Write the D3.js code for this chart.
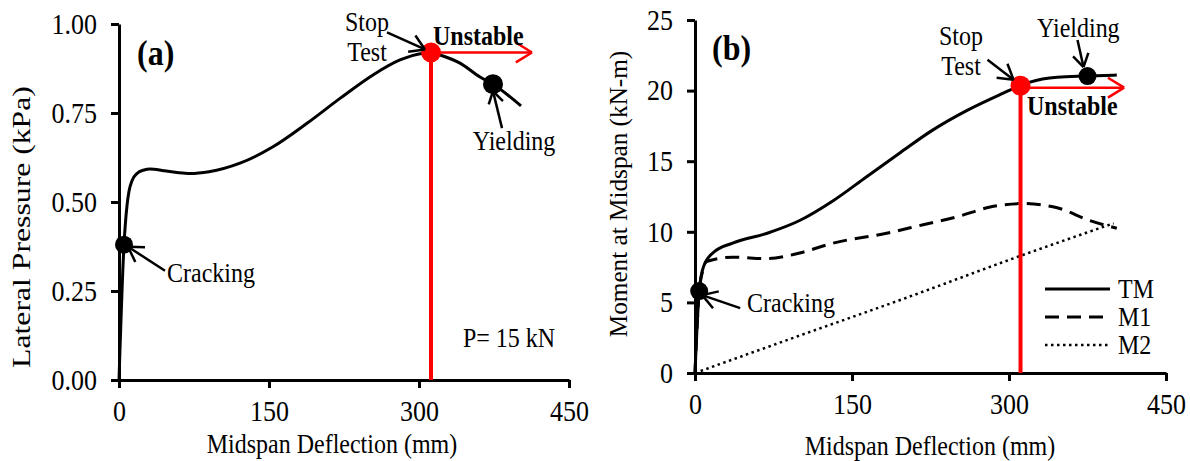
<html>
<head>
  <meta charset="utf-8" />
  <script src="https://cdnjs.cloudflare.com/ajax/libs/d3/7.8.5/d3.min.js"></script>
  <style>
    body { margin: 0; background: #fff; }
    svg { font-family: "Liberation Serif", "Times New Roman", serif; }
    .axis path, .axis line { stroke: #000; stroke-width: 3; }
    .axis text { fill: #000; font-size: 26px; font-family: "Liberation Serif", serif; }
  </style>
</head>
<body>
<svg width="1190" height="461"></svg>
<script>
  // panel (a): lateral pressure vs midspan deflection
  var defA = [0, 5, 8, 10, 13, 18, 25, 31, 45, 60, 71, 90, 121, 154, 188, 221, 254, 281, 304, 312, 321, 341, 361, 374, 402];
  var presA = [0, 0.38, 0.49, 0.53, 0.56, 0.58, 0.59, 0.593, 0.588, 0.582, 0.58, 0.585, 0.609, 0.655, 0.721, 0.791, 0.857, 0.899, 0.918, 0.92, 0.913, 0.89, 0.851, 0.831, 0.77];
  var keyA = { crack: [5, 0.38], stop: [312, 0.92], yield: [374, 0.831] };

  // panel (b): moment at midspan
  var defTM = [0, 4, 8, 17, 36, 69, 100, 132, 164, 196, 227, 260, 291, 311, 320, 346, 375, 403];
  var momTM = [0, 5.8, 7.5, 8.5, 9.2, 9.9, 10.8, 12.2, 13.9, 15.6, 17.2, 18.6, 19.7, 20.35, 20.6, 20.95, 21.03, 21.1];
  var defM1 = [0, 4, 8, 11, 36, 69, 100, 132, 183, 218, 250, 282, 313, 346, 377, 403];
  var momM1 = [0, 5.7, 7.4, 7.9, 8.2, 8.1, 8.5, 9.2, 9.9, 10.5, 11.05, 11.75, 12.0, 11.7, 10.8, 10.25];
  var defM2 = [0, 100, 196, 311, 400];
  var momM2 = [0, 2.65, 5.17, 8.3, 10.6];
  var keyB = { crack: [4, 5.8], stop: [311, 20.35], yield: [375, 21.03] };

  var xTicks = [0, 150, 300, 450];
  var yTicksA = [0, 0.25, 0.5, 0.75, 1];
  var yTicksB = [0, 5, 10, 15, 20, 25];
  var legendNames = ["TM", "M1", "M2"];

  var svg = d3.select("svg");
  var red = "#ff0000";
  var S = 1.12; // glyphs in the source are a bit taller than wide

  function zip(xs, ys) { return xs.map((x, i) => [x, ys[i]]); }

  function stretch(t) {
    var x = +t.attr("x") || 0, y = +t.attr("y") || 0;
    t.attr("transform", "translate(" + x + "," + y + ") scale(1," + S + ") translate(" + (-x) + "," + (-y) + ")");
  }

  function arrow(g, x1, y1, x2, y2, head, color, w) {
    var a = Math.atan2(y2 - y1, x2 - x1);
    var spread = 0.55;
    g.append("line").attr("x1", x1).attr("y1", y1).attr("x2", x2).attr("y2", y2)
      .attr("stroke", color).attr("stroke-width", w);
    [-spread, spread].forEach(s => {
      g.append("line").attr("x1", x2).attr("y1", y2)
        .attr("x2", x2 - head * Math.cos(a + s)).attr("y2", y2 - head * Math.sin(a + s))
        .attr("stroke", color).attr("stroke-width", w);
    });
  }

  function label(g, x, y, txt, size, anchor, bold) {
    var t = g.append("text").attr("x", x).attr("y", y).text(txt)
      .attr("font-size", size).attr("text-anchor", anchor || "start")
      .attr("font-weight", bold ? "bold" : "normal").attr("fill", "#000");
    stretch(t);
    return t;
  }

  function vlabel(g, x, y, txt, size, k) {
    return g.append("text").attr("x", 0).attr("y", 0).text(txt)
      .attr("font-size", size).attr("text-anchor", "middle").attr("fill", "#000")
      .attr("transform", "translate(" + x + "," + y + ") scale(1," + k + ") rotate(-90)");
  }

  function axes(g, x, y, yTicks, fmt) {
    var ax = g.append("g").attr("class", "axis").attr("transform", "translate(0," + y(0) + ")")
      .call(d3.axisBottom(x).tickValues(xTicks).tickSize(8).tickSizeOuter(0).tickPadding(12).tickFormat(d3.format("d")));
    var ay = g.append("g").attr("class", "axis").attr("transform", "translate(" + x(0) + ",0)")
      .call(d3.axisLeft(y).tickValues(yTicks).tickSize(8).tickSizeOuter(0).tickPadding(14).tickFormat(fmt));
    ax.selectAll("text").each(function () { stretch(d3.select(this)); });
    ay.selectAll("text").each(function () { stretch(d3.select(this)); });
  }

  // ---------- panel (a)
  var xA = d3.scaleLinear().domain([0, 450]).range([119, 569]);
  var yA = d3.scaleLinear().domain([0, 1]).range([380, 24]);
  var gA = svg.append("g");

  var lineA = d3.line().x(d => xA(d[0])).y(d => yA(d[1])).curve(d3.curveMonotoneX);
  gA.append("path").attr("d", lineA(zip(defA, presA)))
    .attr("fill", "none").attr("stroke", "#000").attr("stroke-width", 3);

  axes(gA, xA, yA, yTicksA, d3.format(".2f"));

  var sA = [xA(keyA.stop[0]), yA(keyA.stop[1])];
  gA.append("line").attr("x1", sA[0]).attr("x2", sA[0]).attr("y1", sA[1]).attr("y2", yA(0))
    .attr("stroke", red).attr("stroke-width", 4);
  arrow(gA, sA[0], sA[1], xA(413), sA[1], 19, red, 2.5);
  gA.append("circle").attr("cx", sA[0]).attr("cy", sA[1]).attr("r", 10).attr("fill", red);

  var cA = [xA(keyA.crack[0]), yA(keyA.crack[1])];
  var yl = [xA(keyA.yield[0]), yA(keyA.yield[1])];
  gA.append("circle").attr("cx", cA[0]).attr("cy", cA[1]).attr("r", 9).attr("fill", "#000");
  gA.append("circle").attr("cx", yl[0]).attr("cy", yl[1]).attr("r", 10).attr("fill", "#000");

  arrow(gA, sA[0] - 44, sA[1] - 20, sA[0] - 6, sA[1] - 3, 17, "#000", 2.5);
  arrow(gA, yl[0] + 9, yl[1] + 44, yl[0], yl[1] + 7, 14, "#000", 2.5);
  arrow(gA, cA[0] + 41, cA[1] + 26, cA[0] + 4, cA[1] + 2, 17, "#000", 2.5);

  label(gA, 367, 31, "Stop", 24, "middle");
  label(gA, 367, 61, "Test", 24, "middle");
  label(gA, 433, 45, "Unstable", 24, "start", true);
  label(gA, 514, 150, "Yielding", 24, "middle");
  label(gA, 167, 282, "Cracking", 24, "start");
  label(gA, 137, 65, "(a)", 32, "start", true);
  label(gA, 463, 347, "P= 15 kN", 24, "start");

  label(gA, 332, 453, "Midspan Deflection (mm)", 24, "middle");
  vlabel(gA, 30, 227, "Lateral Pressure  (kPa)", 26, 1.22);

  // ---------- panel (b)
  var xB = d3.scaleLinear().domain([0, 450]).range([695, 1166]);
  var yB = d3.scaleLinear().domain([0, 25]).range([373, 20]);
  var gB = svg.append("g");
  var lineB = d3.line().x(d => xB(d[0])).y(d => yB(d[1])).curve(d3.curveMonotoneX);

  var styles = [
    { dash: null, w: 3 },
    { dash: "14,8", w: 3 },
    { dash: "2.5,3.5", w: 2.5 }
  ];
  var series = [zip(defTM, momTM), zip(defM1, momM1), zip(defM2, momM2)];
  series.forEach((s, i) => {
    gB.append("path").attr("d", lineB(s)).attr("fill", "none").attr("stroke", "#000")
      .attr("stroke-width", styles[i].w).attr("stroke-dasharray", styles[i].dash);
  });

  axes(gB, xB, yB, yTicksB, d3.format("d"));

  var sB = [xB(keyB.stop[0]), yB(keyB.stop[1])];
  gB.append("line").attr("x1", sB[0]).attr("x2", sB[0]).attr("y1", sB[1]).attr("y2", yB(0))
    .attr("stroke", red).attr("stroke-width", 4);
  arrow(gB, sB[0], sB[1] + 2, xB(410), sB[1] + 2, 19, red, 2.5);
  gB.append("circle").attr("cx", sB[0]).attr("cy", sB[1]).attr("r", 10).attr("fill", red);

  var cB = [xB(keyB.crack[0]), yB(keyB.crack[1])];
  var yb = [xB(keyB.yield[0]), yB(keyB.yield[1])];
  gB.append("circle").attr("cx", cB[0]).attr("cy", cB[1]).attr("r", 9).attr("fill", "#000");
  gB.append("circle").attr("cx", yb[0]).attr("cy", yb[1]).attr("r", 9).attr("fill", "#000");

  arrow(gB, sB[0] - 33, sB[1] - 26, sB[0] - 7, sB[1] - 6, 17, "#000", 2.5);
  arrow(gB, yb[0] - 10, yb[1] - 36, yb[0] - 4, yb[1] - 9, 15, "#000", 2.5);
  arrow(gB, cB[0] + 41, cB[1] + 17, cB[0] + 3, cB[1] + 4, 17, "#000", 2.5);

  label(gB, 961, 45, "Stop", 24, "middle");
  label(gB, 961, 75, "Test", 24, "middle");
  label(gB, 1027, 115, "Unstable", 24, "start", true);
  label(gB, 1037, 37, "Yielding", 24, "start");
  label(gB, 747, 312, "Cracking", 24, "start");
  label(gB, 712, 60, "(b)", 32, "start", true);

  label(gB, 930, 455, "Midspan Deflection (mm)", 24, "middle");
  vlabel(gB, 627, 194, "Moment at Midspan  (kN-m)", 24.5, 1.03);

  // legend
  legendNames.forEach((n, i) => {
    var ly = 289 + i * 28;
    gB.append("line").attr("x1", 1045).attr("x2", 1110).attr("y1", ly).attr("y2", ly)
      .attr("stroke", "#000").attr("stroke-width", styles[i].w).attr("stroke-dasharray", styles[i].dash);
    label(gB, 1118, ly + 9, n, 24, "start");
  });
</script>
</body>
</html>
